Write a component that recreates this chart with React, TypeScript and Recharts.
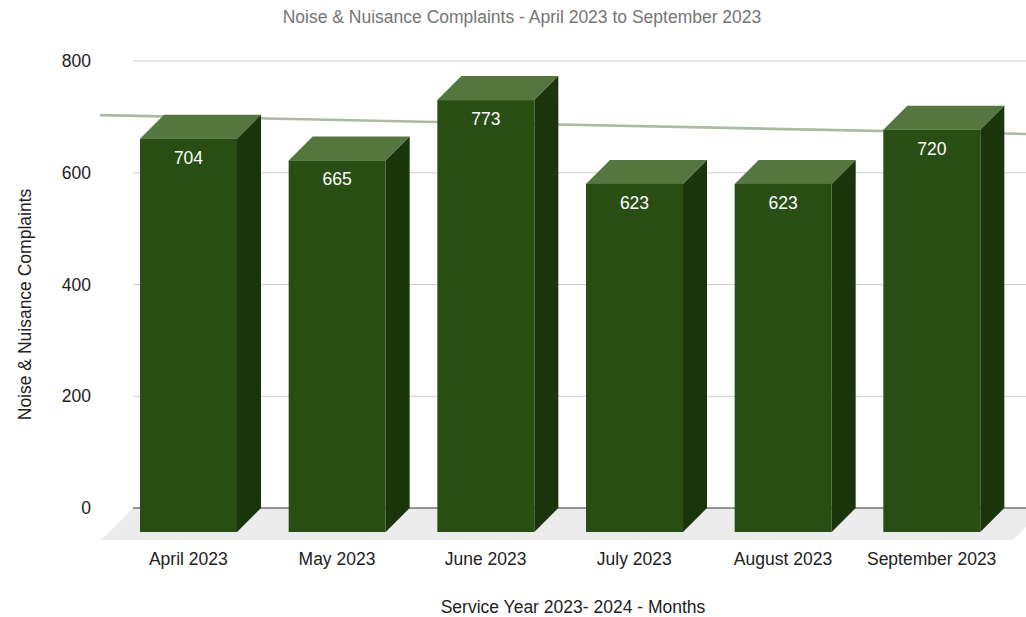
import React from 'react';
import { BarChart, Bar, XAxis, YAxis, CartesianGrid, ReferenceLine, LabelList, Label } from 'recharts';

const months = ['April 2023', 'May 2023', 'June 2023', 'July 2023', 'August 2023', 'September 2023'];
const complaints = [704, 665, 773, 623, 623, 720];
const yTicks = [0, 200, 400, 600, 800];
// trendline values at the first and last month
const trendEnds = [699, 672];

const titleText = 'Noise & Nuisance Complaints - April 2023 to September 2023';
const yTitle = 'Noise & Nuisance Complaints';
const xTitle = 'Service Year 2023- 2024 - Months';

const data = months.map((m, i) => ({ month: m, complaints: complaints[i] }));

const FONT = '"Liberation Sans", Arial, Helvetica, sans-serif';
const DEPTH = 24;
const FRONT = '#284e14';
const TOP = '#55773f';
const SIDE = '#1a350c';
const FS = 17.5;

function Bar3D(props: any) {
  const { x, y, width, height } = props;
  const d = DEPTH;
  const bottom = y + height;
  return (
    <g>
      <polygon
        points={`${x - d},${y + d} ${x},${y} ${x + width},${y} ${x + width - d},${y + d}`}
        fill={TOP}
      />
      <polygon
        points={`${x + width - d},${y + d} ${x + width},${y} ${x + width},${bottom} ${x + width - d},${bottom + d}`}
        fill={SIDE}
      />
      <rect x={x - d} y={y + d} width={width} height={height} fill={FRONT} />
    </g>
  );
}

function ValueLabel(props: any) {
  const { x, y, width, value } = props;
  return (
    <text
      x={Number(x) - DEPTH + Number(width) / 2}
      y={Number(y) + DEPTH + 19}
      fill="#ffffff"
      fontSize={FS}
      fontFamily={FONT}
      textAnchor="middle"
      dominantBaseline="central"
    >
      {value}
    </text>
  );
}

function GridLine(props: any) {
  const { x1, x2, y1, y, height, index } = props;
  const isBase = typeof y === 'number' && typeof height === 'number' && Math.abs(y1 - (y + height)) < 1;
  if (isBase) {
    const f = 32;
    return (
      <g key={`base-${index}`}>
        <polygon
          points={`${x1 - 5},${y1} ${x2 + 15},${y1} ${x2 + 15 - f},${y1 + f} ${x1 - 5 - f},${y1 + f}`}
          fill="#ececec"
        />
        <line x1={x1 - 5} y1={y1} x2={x2} y2={y1} stroke="#333333" strokeWidth={1} />
      </g>
    );
  }
  return <line key={`grid-${index}`} x1={x1 - 5} y1={y1} x2={x2} y2={y1} stroke="#cccccc" strokeWidth={1} />;
}

function TrendShape(props: any) {
  const { x1, y1, x2, y2 } = props;
  const dx = x2 - x1;
  const dy = y2 - y1;
  const t0 = -0.151;
  const t1 = 1.115;
  return (
    <line
      x1={x1 + dx * t0}
      y1={y1 + dy * t0}
      x2={x1 + dx * t1}
      y2={y1 + dy * t1}
      stroke="#a9bba0"
      strokeWidth={2.6}
    />
  );
}

function MonthTick(props: any) {
  const { x, y, payload } = props;
  return (
    <text
      x={x - DEPTH}
      y={y + 51}
      textAnchor="middle"
      dominantBaseline="central"
      fontSize={FS}
      fontFamily={FONT}
      fill="#222222"
    >
      {payload.value}
    </text>
  );
}

function YTitleContent(props: any) {
  const vb = props.viewBox || { x: 0, y: 61, width: 138, height: 447 };
  const cx = vb.x + 25;
  const cy = vb.y + vb.height / 2 + 20;
  return (
    <text
      x={cx}
      y={cy}
      transform={`rotate(-90 ${cx} ${cy})`}
      textAnchor="middle"
      dominantBaseline="central"
      fontSize={FS}
      fontFamily={FONT}
      fill="#222222"
    >
      {yTitle}
    </text>
  );
}

function XTitleContent(props: any) {
  const vb = props.viewBox || { x: 138, y: 508, width: 892, height: 109 };
  return (
    <text
      x={vb.x + 435}
      y={vb.y + 99}
      textAnchor="middle"
      dominantBaseline="central"
      fontSize={FS}
      fontFamily={FONT}
      fill="#222222"
    >
      {xTitle}
    </text>
  );
}

export default function App() {
  return (
    <div
      style={{
        position: 'absolute',
        left: 0,
        top: 0,
        width: 1026,
        height: 617,
        overflow: 'hidden',
        background: '#ffffff',
      }}
    >
      <div
        style={{
          position: 'absolute',
          left: 0,
          top: 7,
          width: 1044,
          textAlign: 'center',
          fontFamily: FONT,
          fontSize: FS,
          lineHeight: '20px',
          color: '#757575',
          zIndex: 2,
        }}
      >
        {titleText}
      </div>
      <BarChart
        width={1040}
        height={617}
        data={data}
        margin={{ top: 61, right: 10, bottom: 0, left: 0 }}
      >
        <CartesianGrid vertical={false} horizontal={GridLine as any} />
        <XAxis
          dataKey="month"
          height={109}
          axisLine={false}
          tickLine={false}
          tickSize={0}
          tickMargin={0}
          interval={0}
          tick={<MonthTick />}
        >
          <Label content={XTitleContent as any} />
        </XAxis>
        <YAxis
          width={138}
          domain={[0, 800]}
          ticks={yTicks}
          axisLine={false}
          tickLine={false}
          tickSize={0}
          tickMargin={47}
          tick={{ fill: '#222222', fontSize: FS, fontFamily: FONT }}
        >
          <Label content={YTitleContent as any} />
        </YAxis>
        <ReferenceLine
          segment={[
            { x: months[0], y: trendEnds[0] },
            { x: months[months.length - 1], y: trendEnds[1] },
          ]}
          shape={TrendShape as any}
          ifOverflow="visible"
          {...({ zIndex: -10 } as any)}
        />
        <Bar dataKey="complaints" barSize={97} isAnimationActive={false} shape={Bar3D as any}>
          <LabelList dataKey="complaints" content={ValueLabel as any} />
        </Bar>
      </BarChart>
    </div>
  );
}
